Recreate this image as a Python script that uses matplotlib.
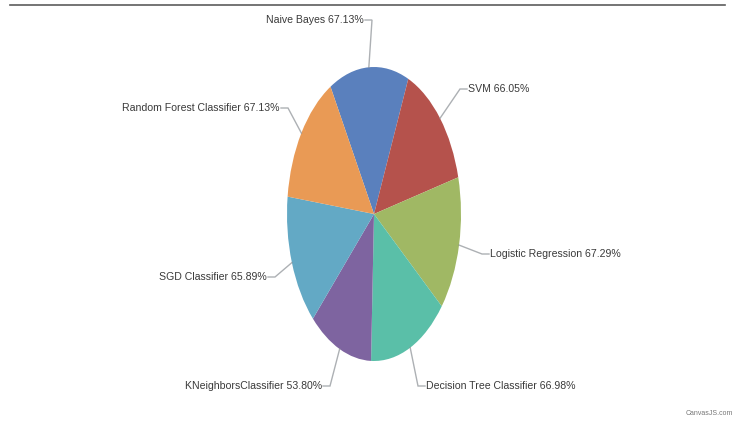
import numpy as np
import matplotlib
matplotlib.use("Agg")
import matplotlib.pyplot as plt

labels = ["Naive Bayes", "SVM", "Logistic Regression", "Decision Tree Classifier",
          "KNeighborsClassifier", "SGD Classifier", "Random Forest Classifier"]
values = [67.13, 66.05, 67.29, 66.98, 53.80, 65.89, 67.13]
colors = ["#5a80bd", "#b5524c", "#a0b864", "#5abfa8", "#7e64a0", "#63a9c5", "#e99a55"]

W, H = 735, 423
cx, cy, rx, ry = 374, 214, 87, 147

plt.rcParams['font.family'] = ['Liberation Sans', 'DejaVu Sans']
fig = plt.figure(figsize=(W / 100, H / 100), dpi=100)
ax = fig.add_axes([0, 0, 1, 1])
ax.pie(values, colors=colors, startangle=120, counterclock=False,
       wedgeprops=dict(linewidth=0))
ax.set_aspect('auto')
ax.set_xlim((0 - cx) / rx, (W - cx) / rx)
ax.set_ylim((cy - H) / ry, (cy - 0) / ry)
ax.axis('off')

def px2d(px, py):
    return (px - cx) / rx, (cy - py) / ry

# label elbow positions (pixels) and side
elbows = [(372, 20, 'left'), (460, 89, 'right'), (482, 254, 'right'),
          (418, 386, 'right'), (330, 386, 'left'), (275, 277, 'left'),
          (288, 108, 'left')]

total = sum(values)
ang = 120.0
for lab, v, col, (ex, ey, side) in zip(labels, values, colors, elbows):
    span = v / total * 360
    mid = np.deg2rad(ang - span / 2)
    ang -= span
    x0, y0 = np.cos(mid), np.sin(mid)
    x1, y1 = px2d(ex, ey)
    dx = 7 / rx
    x2 = x1 - dx if side == 'left' else x1 + dx
    ax.plot([x0, x1, x2], [y0, y1, y1], color='#8a8f94', alpha=0.7, lw=1.0,
            solid_joinstyle='miter')
    ha = 'right' if side == 'left' else 'left'
    ax.text(x2 + (-1 / rx if side == 'left' else 1 / rx), y1,
            f"{lab} {v:.2f}%", ha=ha, va='center', fontsize=7.6, color='#3a3a3a')

# top frame line
fig.add_artist(plt.Line2D([10 / W, 725 / W], [1 - 5 / H, 1 - 5 / H],
                          color='#333333', lw=1.2, alpha=0.8))
fig.text(733 / W, 1 - 413 / H, "CanvasJS.com", ha='right', va='center',
         fontsize=5, color='#777777')

fig.savefig("out.png", dpi=100, facecolor='white')
